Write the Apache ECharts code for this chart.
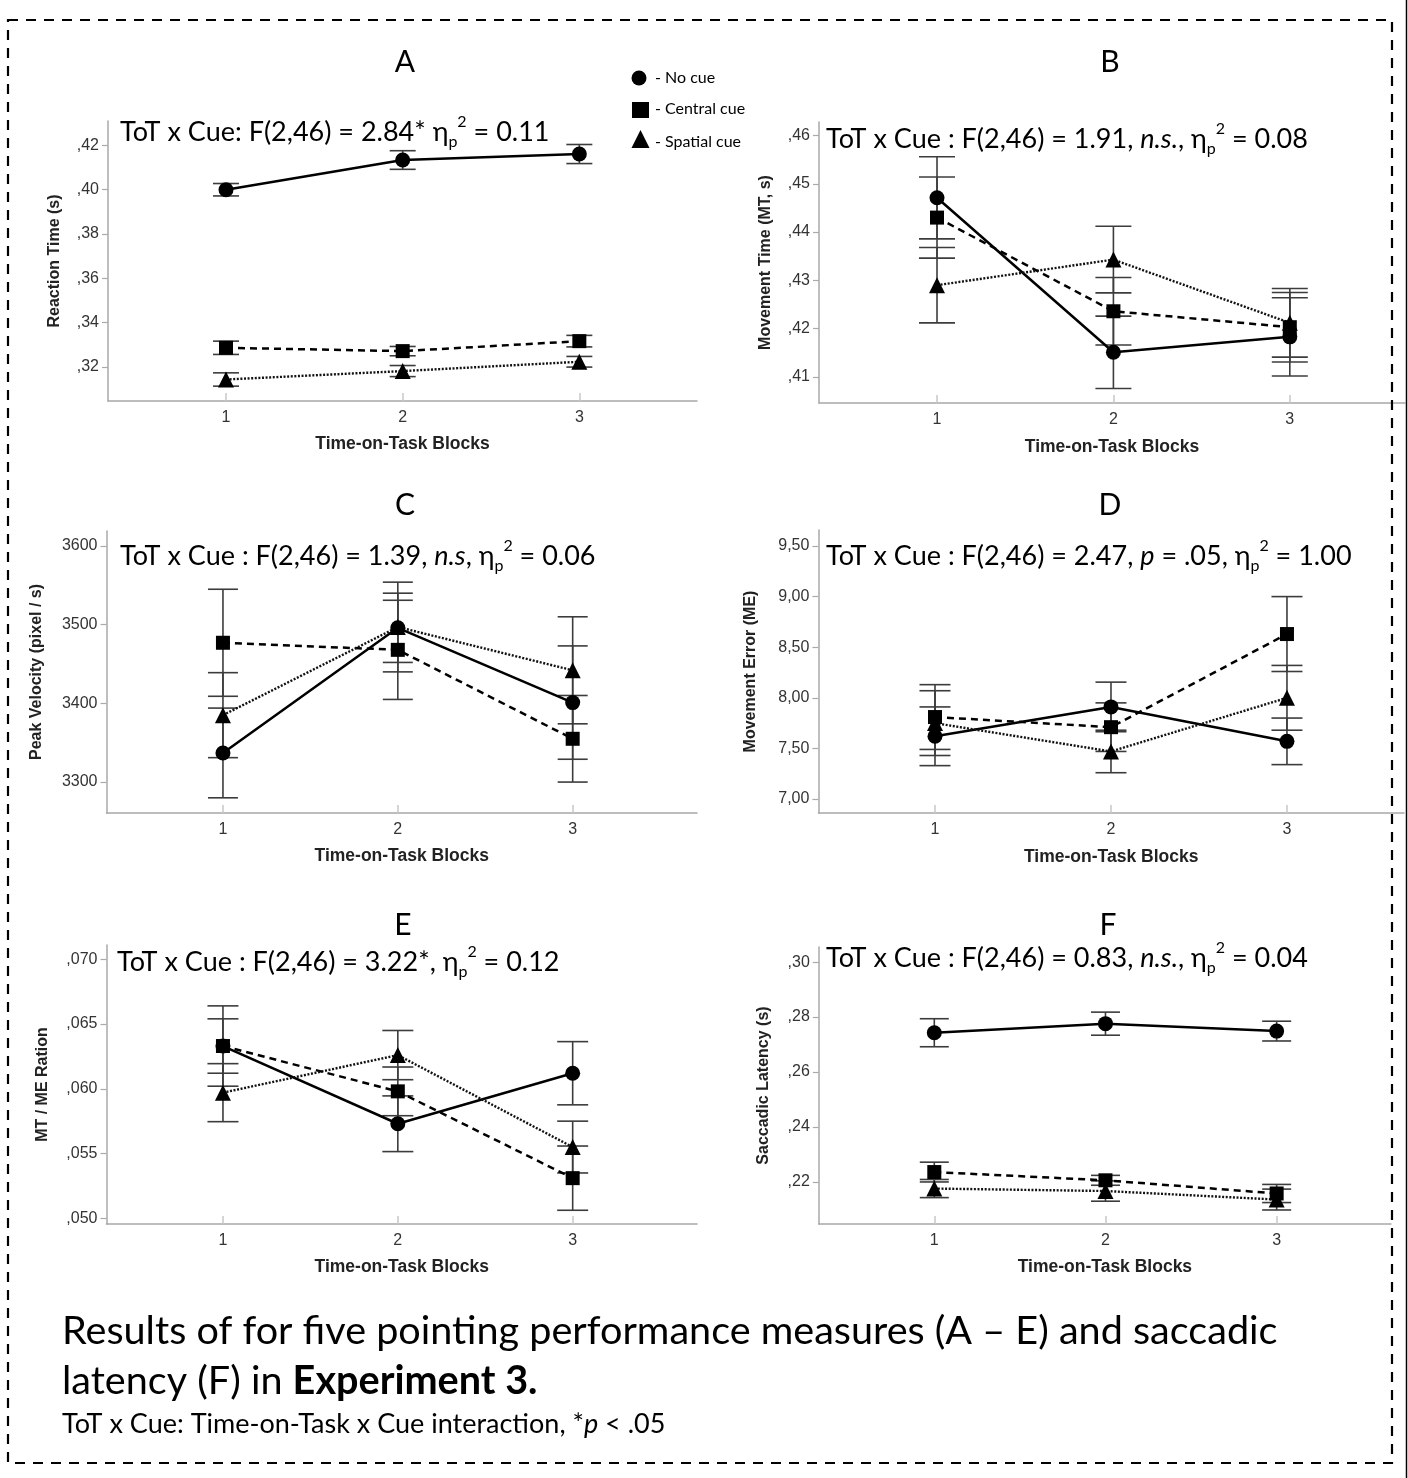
<!DOCTYPE html>
<html><head><meta charset="utf-8">
<script src="https://cdn.jsdelivr.net/npm/echarts@6/dist/echarts.min.js"></script>
<style>html,body{margin:0;padding:0;background:#fff}#c{width:1408px;height:1478px}</style>
</head><body><div id="c"></div>
<script>
// ---------- DATA ----------
const blocks = [1, 2, 3];
const blockLabels = ['1', '2', '3'];
const cueNames = ['No cue', 'Central cue', 'Spatial cue'];

// A – Reaction time (s)
const rtNoCue = [0.4000, 0.4134, 0.4161];
const rtNoCueErr = [0.0028, 0.0042, 0.0043];
const rtCentral = [0.3287, 0.3272, 0.3317];
const rtCentralErr = [0.0030, 0.0021, 0.0026];
const rtSpatial = [0.3144, 0.3182, 0.3224];
const rtSpatialErr = [0.0030, 0.0025, 0.0024];
const rtTicks = [0.32, 0.34, 0.36, 0.38, 0.40, 0.42];

// B – Movement time (s)
const mtNoCue = [0.4471, 0.4151, 0.4183];
const mtNoCueErr = [0.0085, 0.0075, 0.0081];
const mtCentral = [0.4430, 0.4236, 0.4203];
const mtCentralErr = [0.0084, 0.0070, 0.0072];
const mtSpatial = [0.4290, 0.4343, 0.4212];
const mtSpatialErr = [0.0078, 0.0069, 0.0071];
const mtTicks = [0.41, 0.42, 0.43, 0.44, 0.45, 0.46];

// C – Peak velocity (pixel / s)
const pvNoCue = [3337, 3496, 3401];
const pvNoCueErr = [57, 44, 72];
const pvCentral = [3477, 3468, 3355];
const pvCentralErr = [68, 63, 55];
const pvSpatial = [3385, 3497, 3442];
const pvSpatialErr = [54, 57, 68];
const pvTicks = [3300, 3400, 3500, 3600];

// D – Movement error
const meNoCue = [7.62, 7.91, 7.57];
const meNoCueErr = [0.29, 0.245, 0.23];
const meCentral = [7.81, 7.71, 8.63];
const meCentralErr = [0.32, 0.24, 0.37];
const meSpatial = [7.75, 7.47, 8.00];
const meSpatialErr = [0.32, 0.21, 0.32];
const meTicks = [7.0, 7.5, 8.0, 8.5, 9.0, 9.5];

// E – MT / ME ratio
const ratioNoCue = [0.0633, 0.0573, 0.0612];
const ratioNoCueErr = [0.0021, 0.00215, 0.00244];
const ratioCentral = [0.0633, 0.0598, 0.0531];
const ratioCentralErr = [0.0031, 0.00188, 0.00248];
const ratioSpatial = [0.0597, 0.0626, 0.0555];
const ratioSpatialErr = [0.00224, 0.0019, 0.0020];
const ratioTicks = [0.050, 0.055, 0.060, 0.065, 0.070];

// F – Saccadic latency (s)
const slNoCue = [0.2743, 0.2776, 0.2749];
const slNoCueErr = [0.0051, 0.0042, 0.0036];
const slCentral = [0.2236, 0.2206, 0.2158];
const slCentralErr = [0.0036, 0.0018, 0.0033];
const slSpatial = [0.2176, 0.2167, 0.2136];
const slSpatialErr = [0.0033, 0.0037, 0.0038];
const slTicks = [0.22, 0.24, 0.26, 0.28, 0.30];

// ---------- FORMATTERS ----------
const commaDec = (d) => (v) => ',' + v.toFixed(d).split('.')[1];
const commaFull = (v) => v.toFixed(2).replace('.', ',');
const intFmt = (v) => String(Math.round(v));

// ---------- PANELS (layout) ----------
const panels = [
  { letter: 'A', data: [[rtNoCue, rtNoCueErr], [rtCentral, rtCentralErr], [rtSpatial, rtSpatialErr]],
    ticks: rtTicks, fmt: commaDec(2), yName: 'Reaction Time (s)',
    grid: { left: 108, top: 121, width: 589, height: 280 }, xr: [0.332, 3.666], yr: [0.3047, 0.431], yGap: 45, xGap: 34, cap: 26,
    title: [405, 62], stat: { x: 120, y: 132, text: '{n|ToT x Cue: F(2,46) = 2.84* η}{sub|p}{sup|2}{n| = 0.11}' } },
  { letter: 'B', data: [[mtNoCue, mtNoCueErr], [mtCentral, mtCentralErr], [mtSpatial, mtSpatialErr]],
    ticks: mtTicks, fmt: commaDec(2), yName: 'Movement Time (MT, s)',
    grid: { left: 819, top: 122, width: 586, height: 281 }, xr: [0.331, 3.653], yr: [0.4046, 0.4628], yGap: 45, xGap: 35, cap: 36,
    title: [1110, 62], stat: { x: 826, y: 139, text: '{n|ToT x Cue : F(2,46) = 1.91, }{i|n.s.}{n|, η}{sub|p}{sup|2}{n| = 0.08}' } },
  { letter: 'C', data: [[pvNoCue, pvNoCueErr], [pvCentral, pvCentralErr], [pvSpatial, pvSpatialErr]],
    ticks: pvTicks, fmt: intFmt, yName: 'Peak Velocity (pixel / s)',
    grid: { left: 106.5, top: 531, width: 590.5, height: 282 }, xr: [0.334, 3.711], yr: [3260.7, 3619], yGap: 62, xGap: 34, cap: 30,
    title: [405, 505], stat: { x: 120, y: 556, text: '{n|ToT x Cue : F(2,46) = 1.39, }{i|n.s}{n|, η}{sub|p}{sup|2}{n| = 0.06}' } },
  { letter: 'D', data: [[meNoCue, meNoCueErr], [meCentral, meCentralErr], [meSpatial, meSpatialErr]],
    ticks: meTicks, fmt: commaFull, yName: 'Movement Error (ME)',
    grid: { left: 818.4, top: 530, width: 585.6, height: 283 }, xr: [0.3375, 3.665], yr: [6.862, 9.658], yGap: 60, xGap: 35, cap: 31,
    title: [1110, 505], stat: { x: 826, y: 556, text: '{n|ToT x Cue : F(2,46) = 2.47, }{i|p}{n| = .05, η}{sub|p}{sup|2}{n| = 1.00}' } },
  { letter: 'E', data: [[ratioNoCue, ratioNoCueErr], [ratioCentral, ratioCentralErr], [ratioSpatial, ratioSpatialErr]],
    ticks: ratioTicks, fmt: commaDec(3), yName: 'MT / ME Ration',
    grid: { left: 106.5, top: 945, width: 590.5, height: 279 }, xr: [0.334, 3.711], yr: [0.04956, 0.0711], yGap: 56, xGap: 34, cap: 31,
    title: [403, 925], stat: { x: 117, y: 962, text: '{n|ToT x Cue : F(2,46) = 3.22*, η}{sub|p}{sup|2}{n| = 0.12}' } },
  { letter: 'F', data: [[slNoCue, slNoCueErr], [slCentral, slCentralErr], [slSpatial, slSpatialErr]],
    ticks: slTicks, fmt: commaDec(2), yName: 'Saccadic Latency (s)',
    grid: { left: 818.8, top: 947, width: 572.2, height: 277 }, xr: [0.3253, 3.668], yr: [0.2047, 0.3055], yGap: 47, xGap: 34, cap: 29,
    title: [1108, 925], stat: { x: 826, y: 958, text: '{n|ToT x Cue : F(2,46) = 0.83, }{i|n.s.}{n|, η}{sub|p}{sup|2}{n| = 0.04}' } }
];

const cueStyles = [
  { symbol: 'circle', size: 15, line: { type: 'solid', width: 2.5, color: '#000' } },
  { symbol: 'rect', size: 14, line: { type: [7, 5], width: 2.5, color: '#000' } },
  { symbol: 'triangle', size: 16, line: { type: [2, 1.6], width: 2.4, color: '#111' } }
];

const AXIS_GREY = '#a8a8a8';
const LABEL_FONT = '"Liberation Sans", Arial, sans-serif';
const TEXT_FONT = 'Lato, "Open Sans", sans-serif';

const grids = [], xAxes = [], yAxes = [], series = [], graphics = [];

panels.forEach((p, pi) => {
  grids.push(Object.assign({ containLabel: false }, p.grid));
  xAxes.push({
    type: 'value', gridIndex: pi, min: p.xr[0], max: p.xr[1],
    name: 'Time-on-Task Blocks', nameLocation: 'middle', nameGap: p.xGap,
    nameTextStyle: { fontFamily: LABEL_FONT, fontWeight: 'bold', fontSize: 17.5, color: '#222' },
    axisLine: { show: true, lineStyle: { color: AXIS_GREY, width: 1.5 } },
    axisTick: { show: true, inside: true, length: 8, customValues: blocks, lineStyle: { color: '#c8c8c8', width: 1.5 } },
    axisLabel: { customValues: blocks, margin: 9, fontFamily: LABEL_FONT, fontSize: 16, color: '#333',
      formatter: (v) => blockLabels[blocks.indexOf(v)] },
    splitLine: { show: false }
  });
  yAxes.push({
    type: 'value', gridIndex: pi, min: p.yr[0], max: p.yr[1],
    name: p.yName, nameLocation: 'middle', nameRotate: 90, nameGap: p.yGap,
    nameTextStyle: { fontFamily: LABEL_FONT, fontWeight: 'bold', fontSize: 16, color: '#222' },
    axisLine: { show: true, lineStyle: { color: AXIS_GREY, width: 1.5 } },
    axisTick: { show: true, inside: false, length: 6, customValues: p.ticks, lineStyle: { color: '#aaa', width: 1.2 } },
    axisLabel: { customValues: p.ticks, margin: 9, fontFamily: LABEL_FONT, fontSize: 16, color: '#333', formatter: p.fmt },
    splitLine: { show: false }
  });
  p.data.forEach(([vals, errs], ci) => {
    const st = cueStyles[ci];
    series.push({
      type: 'custom', name: cueNames[ci] + ' SE', xAxisIndex: pi, yAxisIndex: pi, z: 2, silent: true,
      data: blocks.map((b, i) => [b, vals[i], errs[i]]),
      encode: { x: 0, y: 1 },
      renderItem: (params, api) => {
        const x = api.value(0), y = api.value(1), e = api.value(2);
        const t = api.coord([x, y + e]), b = api.coord([x, y - e]);
        const hw = p.cap / 2;
        const style = { stroke: '#3c3c3c', lineWidth: 1.6 };
        return { type: 'group', children: [
          { type: 'line', shape: { x1: t[0], y1: t[1], x2: b[0], y2: b[1] }, style },
          { type: 'line', shape: { x1: t[0] - hw, y1: t[1], x2: t[0] + hw, y2: t[1] }, style },
          { type: 'line', shape: { x1: b[0] - hw, y1: b[1], x2: b[0] + hw, y2: b[1] }, style }
        ] };
      }
    });
    series.push({
      type: 'line', name: cueNames[ci], xAxisIndex: pi, yAxisIndex: pi, z: 3,
      data: blocks.map((b, i) => [b, vals[i]]),
      symbol: st.symbol, symbolSize: st.size, showSymbol: true,
      itemStyle: { color: '#000' }, lineStyle: st.line
    });
  });
  graphics.push({ type: 'text', x: p.title[0], y: p.title[1], z: 10,
    style: { text: p.letter, fontFamily: TEXT_FONT, fontSize: 30, fill: '#000', align: 'center', verticalAlign: 'middle' } });
  graphics.push({ type: 'text', x: p.stat.x, y: p.stat.y, z: 10,
    style: { text: p.stat.text, align: 'left', verticalAlign: 'middle',
      rich: {
        n: { fontFamily: TEXT_FONT, fontSize: 27, lineHeight: 36, fill: '#000' },
        i: { fontFamily: TEXT_FONT, fontSize: 27, lineHeight: 36, fontStyle: 'italic', fill: '#000' },
        sub: { fontFamily: TEXT_FONT, fontSize: 16, lineHeight: 16, verticalAlign: 'bottom', fill: '#000' },
        sup: { fontFamily: TEXT_FONT, fontSize: 16, lineHeight: 25, verticalAlign: 'top', fill: '#000' }
      } } });
});

// legend (manual)
graphics.push(
  { type: 'circle', shape: { cx: 639, cy: 78, r: 7.5 }, style: { fill: '#000' }, z: 10 },
  { type: 'rect', shape: { x: 632, y: 102, width: 17, height: 16 }, style: { fill: '#000' }, z: 10 },
  { type: 'polygon', shape: { points: [[640.5, 130], [649.5, 148], [631.5, 148]] }, style: { fill: '#000' }, z: 10 }
);
[['- No cue', 78], ['- Central cue', 109], ['- Spatial cue', 142]].forEach(([t, y]) => {
  graphics.push({ type: 'text', x: 655, y, z: 10,
    style: { text: t, fontFamily: TEXT_FONT, fontSize: 16, fill: '#000', align: 'left', verticalAlign: 'middle' } });
});

// caption
graphics.push(
  { type: 'text', x: 62, y: 1331, z: 10, style: { text: 'Results of for five pointing performance measures (A – E) and saccadic',
      fontFamily: TEXT_FONT, fontSize: 39.6, fill: '#000', align: 'left', verticalAlign: 'middle' } },
  { type: 'text', x: 62, y: 1381, z: 10, style: { text: '{n|latency (F) in }{b|Experiment 3.}', align: 'left', verticalAlign: 'middle',
      rich: { n: { fontFamily: TEXT_FONT, fontSize: 39.6, fill: '#000' }, b: { fontFamily: TEXT_FONT, fontSize: 39.6, fontWeight: 'bold', fill: '#000' } } } },
  { type: 'text', x: 62, y: 1424, z: 10, style: { text: '{n|ToT x Cue: Time-on-Task x Cue interaction, *}{i|p}{n| < .05}', align: 'left', verticalAlign: 'middle',
      rich: { n: { fontFamily: TEXT_FONT, fontSize: 27, fill: '#000' }, i: { fontFamily: TEXT_FONT, fontSize: 27, fontStyle: 'italic', fill: '#000' } } } }
);

// dashed frame and right edge line
graphics.push(
  { type: 'rect', shape: { x: 8, y: 20, width: 1384, height: 1443 }, z: 20,
    style: { fill: 'none', stroke: '#000', lineWidth: 2.2, lineDash: [10, 8] } },
  { type: 'line', shape: { x1: 1406.5, y1: 0, x2: 1406.5, y2: 1478 }, z: 20, style: { stroke: '#000', lineWidth: 1.5 } }
);

const chart = echarts.init(document.getElementById('c'), null, { renderer: 'canvas' });
chart.setOption({
  animation: false,
  backgroundColor: '#fff',
  grid: grids, xAxis: xAxes, yAxis: yAxes, series,
  graphic: { elements: graphics }
});
</script>
</body></html>
